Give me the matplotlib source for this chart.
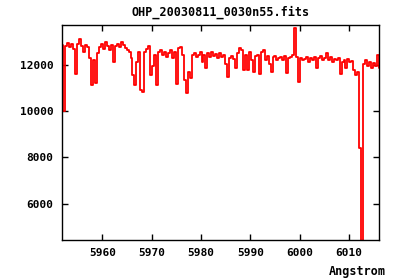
import numpy as np
import matplotlib
matplotlib.use('Agg')
import matplotlib.pyplot as plt

# Spectrum sampling (Angstrom)
wave_start = 5951.9
wave_step = 0.4

# Flux values
flux = [
    12870, 10000, 12820, 12950, 12780, 12910, 12690, 11610, 12910, 13130,
    12820, 12560, 12870, 12780, 12300, 11130, 12220, 11220, 12520, 12780,
    12910, 12690, 13000, 12820, 12650, 12870, 12130, 12820, 12910, 12780,
    13000, 12870, 12740, 12650, 12560, 12300, 11570, 11130, 12130, 12560,
    10920, 10830, 12560, 12690, 12820, 11570, 11960, 12430, 11130, 12560,
    12650, 12430, 12560, 12350, 12520, 12650, 12300, 12560, 11180, 12740,
    12780, 12430, 11350, 10790, 11700, 11440, 12430, 12520, 12350, 12430,
    12560, 12130, 12430, 11870, 12520, 12350, 12560, 12390, 12480, 12300,
    12520, 12350, 12430, 12040, 11480, 12300, 12390, 12260, 11870, 12520,
    12740, 12650, 11780, 12430, 11780, 12560, 12220, 11700, 12390, 12430,
    11610, 12560, 12650, 12220, 12390, 12040, 11700, 12350, 12390, 12220,
    12300, 12350, 12220, 12390, 11650, 12300, 12350, 12430, 13600, 12350,
    11260, 12300, 12220, 12260, 12350, 12130, 12300, 12220, 12350, 11870,
    12300, 12390, 12220, 12300, 12520, 12220, 12350, 12130, 12260, 12220,
    12300, 11610, 12130, 12220, 11870, 12260, 12130, 12170, 11780, 11570,
    11700, 8400, 4000, 12040, 12220, 11960, 12130, 11870, 12090, 11960,
    12430, 11870,
]

x_ticks = [5960, 5970, 5980, 5990, 6000, 6010]
y_ticks = [6000, 8000, 10000, 12000]

wave = wave_start + wave_step * np.arange(len(flux))

plt.rcParams['font.family'] = ['DejaVu Sans Mono']
plt.rcParams['font.weight'] = 'bold'

fig = plt.figure(figsize=(4, 2.8), dpi=100)
ax = fig.add_axes([0.155, 0.143, 0.7925, 0.768])

ax.plot(wave, flux, color='#ff0000', lw=1.3, drawstyle='steps-mid')

ax.set_xlim(5951.8, 6016.1)
ax.set_ylim(4430, 13730)
ax.set_xticks(x_ticks)
ax.set_yticks(y_ticks)
ax.tick_params(direction='in', length=4, width=1, top=True, right=True,
               labelsize=8, pad=6)
for s in ax.spines.values():
    s.set_linewidth(1.0)

ax.set_title('OHP_20030811_0030n55.fits', fontsize=8.5, fontweight='bold', pad=7)
fig.text(386 / 400, 1 - 271 / 280, 'Angstrom', ha='right', va='center',
         fontsize=8.5, fontweight='bold')

fig.savefig('out.png', dpi=100)
